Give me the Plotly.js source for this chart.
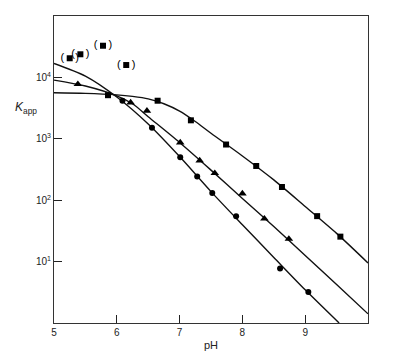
<!DOCTYPE html>
<html>
<head>
<meta charset="utf-8">
<script src="https://cdn.plot.ly/plotly-3.0.1.min.js"></script>
<style>html,body{margin:0;padding:0;background:#fff;}#chart{width:393px;height:355px;}</style>
</head>
<body>
<div id="chart"></div>
<script>
// Measured points
const circlePH = [6.09, 6.56, 7.01, 7.28, 7.52, 7.90, 8.60, 9.05];
const circleK  = [4170, 1510, 500, 243, 131, 55, 7.7, 3.2];
const trianglePH = [5.38, 6.22, 6.48, 7.01, 7.32, 7.56, 8.00, 8.35, 8.74];
const triangleK  = [7760, 3890, 2850, 870, 443, 275, 128, 50, 23.4];
const squarePH = [5.86, 6.65, 7.18, 7.74, 8.22, 8.63, 9.19, 9.56];
const squareK  = [5130, 4170, 2000, 807, 361, 164, 55, 25.5];
// Excluded (parenthesized) square points
const exclPH = [5.25, 5.42, 5.78, 6.15];
const exclK  = [20500, 23800, 32800, 15900];
// Fitted curves
const circleCurvePH = [5, 5.5, 6, 6.5, 7, 7.5, 8, 8.5, 9, 9.54];
const circleCurveK  = [16900, 10500, 4790, 1740, 513, 138, 39.8, 11.7, 3.47, 1.0];
const triangleCurvePH = [5, 5.5, 6, 6.25, 6.5, 7, 7.5, 8, 8.5, 9, 9.5, 10];
const triangleCurveK  = [9040, 7240, 5010, 3720, 2290, 871, 309, 107, 37.2, 12.6, 4.22, 1.41];
const squareCurvePH = [5, 5.5, 6, 6.25, 6.5, 6.75, 7, 7.25, 7.5, 8, 8.5, 9, 9.5, 10];
const squareCurveK  = [5620, 5500, 5190, 4900, 4470, 3720, 2820, 1910, 1230, 525, 214, 79, 28.8, 9.5];
// Axis ticks
const xTicks = [5, 6, 7, 8, 9];
const yTickVals = [10, 100, 1000, 10000];
const yTickText = ['10<sup>1</sup>', '10<sup>2</sup>', '10<sup>3</sup>', '10<sup>4</sup>'];

const lineStyle = {color: '#111', width: 1.4, shape: 'spline', smoothing: 0.8};
const traces = [
  {x: circleCurvePH, y: circleCurveK, mode: 'lines', line: lineStyle, hoverinfo: 'skip'},
  {x: triangleCurvePH, y: triangleCurveK, mode: 'lines', line: lineStyle, hoverinfo: 'skip'},
  {x: squareCurvePH, y: squareCurveK, mode: 'lines', line: lineStyle, hoverinfo: 'skip'},
  {x: circlePH, y: circleK, mode: 'markers', marker: {symbol: 'circle', size: 6, color: '#000'}},
  {x: trianglePH, y: triangleK, mode: 'markers', marker: {symbol: 'triangle-up', size: 7.5, color: '#000'}},
  {x: squarePH, y: squareK, mode: 'markers', marker: {symbol: 'square', size: 6, color: '#000'}},
  {x: exclPH, y: exclK, mode: 'markers+text', marker: {symbol: 'square', size: 6, color: '#000'},
   text: exclPH.map(() => '(\u2002\u2002)'), textposition: 'middle center',
   textfont: {family: 'Liberation Sans, Arial, sans-serif', size: 11, color: '#000'}}
];

const font = {family: 'Liberation Sans, Arial, sans-serif', size: 10, color: '#222'};
const layout = {
  width: 393, height: 355,
  margin: {l: 54, r: 25, t: 16, b: 32, pad: 0},
  paper_bgcolor: '#fff', plot_bgcolor: '#fff',
  showlegend: false,
  font: font,
  xaxis: {
    range: [5, 10], tickvals: xTicks, ticks: 'inside', ticklen: 8, tickcolor: '#222',
    showline: true, linecolor: '#333', linewidth: 1, mirror: true,
    showgrid: false, zeroline: false, tickfont: font,
    title: {text: 'pH', font: {family: 'Liberation Sans, Arial, sans-serif', size: 11, color: '#222'}, standoff: 4}
  },
  yaxis: {
    type: 'log', range: [0, 5], tickvals: yTickVals, ticktext: yTickText,
    ticks: 'inside', ticklen: 8, tickcolor: '#222',
    showline: true, linecolor: '#333', linewidth: 1, mirror: true,
    showgrid: false, zeroline: false, tickfont: font
  },
  annotations: [{
    text: '<i>K</i><sub>app</sub>', xref: 'paper', yref: 'paper',
    x: -0.089, y: 0.70, showarrow: false, xanchor: 'center', yanchor: 'middle',
    font: {family: 'Liberation Sans, Arial, sans-serif', size: 12, color: '#222'}
  }]
};
Plotly.newPlot('chart', traces, layout, {staticPlot: true, displayModeBar: false});
</script>
</body>
</html>
